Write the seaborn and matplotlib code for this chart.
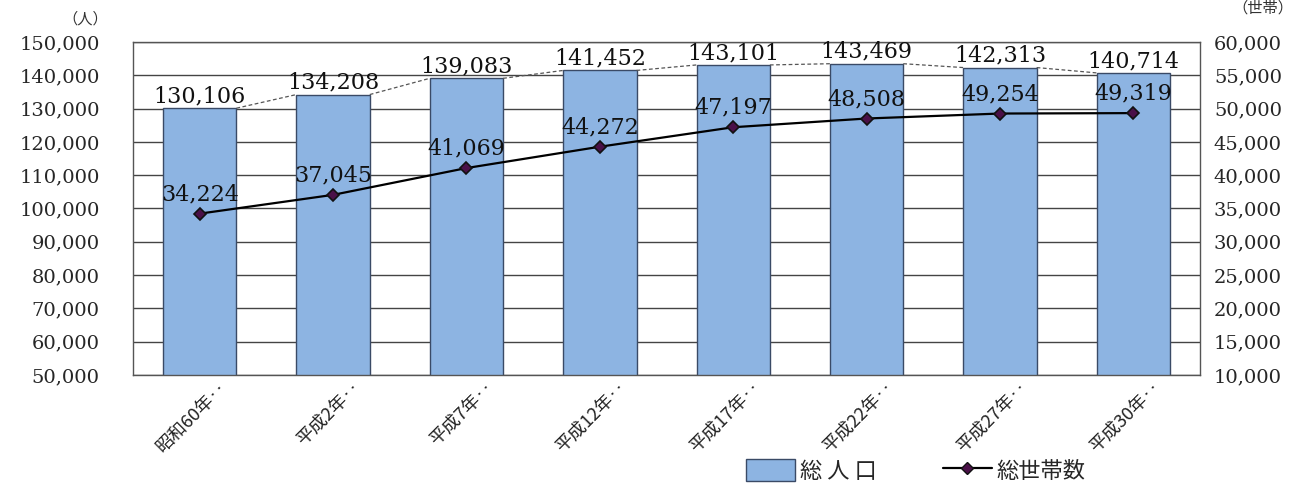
import matplotlib
matplotlib.use("Agg")
import matplotlib.pyplot as plt
import matplotlib.transforms as mtransforms
import seaborn as sns
import numpy as np
import pandas as pd
from matplotlib.patches import Patch
from matplotlib.lines import Line2D

years = ["昭和60年‥", "平成2年‥", "平成7年‥", "平成12年‥",
         "平成17年‥", "平成22年‥", "平成27年‥", "平成30年‥"]
population = [130106, 134208, 139083, 141452, 143101, 143469, 142313, 140714]
households = [34224, 37045, 41069, 44272, 47197, 48508, 49254, 49319]

pop_ticks = np.arange(50000, 150001, 10000)
hh_ticks = np.arange(10000, 60001, 5000)

sns.set_theme(style="white")
plt.rcParams["font.family"] = ["Noto Sans CJK JP", "DejaVu Sans"]
num_font = "DejaVu Serif"

df = pd.DataFrame({"year": years, "pop": population, "hh": households})

fig = plt.figure(figsize=(12.99, 4.88), dpi=100)
ax = fig.add_axes([0.1024, 0.2316, 0.8214, 0.6824])

bar_w = 0.55
sns.barplot(data=df, x="year", y="pop", ax=ax, color="#8db4e2", width=bar_w,
            edgecolor="#3a4a66", linewidth=1.0, saturation=1, zorder=2)
ax.set_ylim(50000, 150000)
ax.set_yticks(pop_ticks)
ax.set_yticklabels([f"{v:,}" for v in pop_ticks], fontsize=14, family=num_font)
ax.yaxis.grid(True, color="#444444", linewidth=1.0, zorder=0)
ax.set_axisbelow(True)
ax.tick_params(axis="y", length=0, pad=24)
ax.tick_params(axis="x", length=0, pad=2)
ax.set_xlabel("")
ax.set_ylabel("")
ax.set_xticks(range(len(years)))
ax.set_xticklabels(years, rotation=45, ha="right", rotation_mode="anchor",
                   fontsize=13, color="#222222")
shift = mtransforms.ScaledTranslation(18 / 100, 0, fig.dpi_scale_trans)
for lbl in ax.get_xticklabels():
    lbl.set_transform(lbl.get_transform() + shift)
for s in ax.spines.values():
    s.set_color("#555555")
    s.set_linewidth(1.0)

# series lines between bar tops
for i in range(len(years) - 1):
    ax.plot([i + bar_w / 2, i + 1 - bar_w / 2], [population[i], population[i + 1]],
            color="#555555", linestyle=(0, (3, 2)), linewidth=0.9, zorder=3)

for i, v in enumerate(population):
    ax.text(i, v + 250, f"{v:,}", ha="center", va="bottom", fontsize=16,
            family=num_font, color="#111111", zorder=5)

ax2 = ax.twinx()
sns.pointplot(data=df, x="year", y="hh", ax=ax2, color="black", markers="D",
              errorbar=None, linewidth=1.6, markersize=6)
for ln in ax2.lines:
    ln.set_markerfacecolor("#4a1048")
    ln.set_markeredgecolor("#111111")
ax2.set_ylim(10000, 60000)
ax2.set_yticks(hh_ticks)
ax2.set_yticklabels([f"{v:,}" for v in hh_ticks], fontsize=14, family=num_font)
ax2.tick_params(axis="y", length=0, pad=10)
ax2.set_ylabel("")
ax2.set_xlabel("")
ax2.grid(False)
for s in ax2.spines.values():
    s.set_visible(False)

for i, v in enumerate(households):
    ax2.annotate(f"{v:,}", (i, v), xytext=(0, 6), textcoords="offset points",
                 ha="center", va="bottom", fontsize=16, family=num_font,
                 color="#111111", zorder=5)

fig.text(0.066, 0.96, "（人）", ha="center", va="center", fontsize=11, color="#333333")
fig.text(0.972, 0.983, "（世帯）", ha="center", va="center", fontsize=11, color="#333333")

handles = [Patch(facecolor="#8db4e2", edgecolor="#3a4a66", label="総 人 口"),
           Line2D([0], [0], color="black", marker="D", markerfacecolor="#4a1048",
                  markeredgecolor="#111111", markersize=6, linewidth=1.6, label="総世帯数")]
fig.legend(handles=handles, loc="center", bbox_to_anchor=(0.705, 0.035), ncol=2,
           frameon=False, fontsize=16, handlelength=2.2, handleheight=1.1,
           columnspacing=3.0, handletextpad=0.2)

fig.savefig("out.png", dpi=100)
